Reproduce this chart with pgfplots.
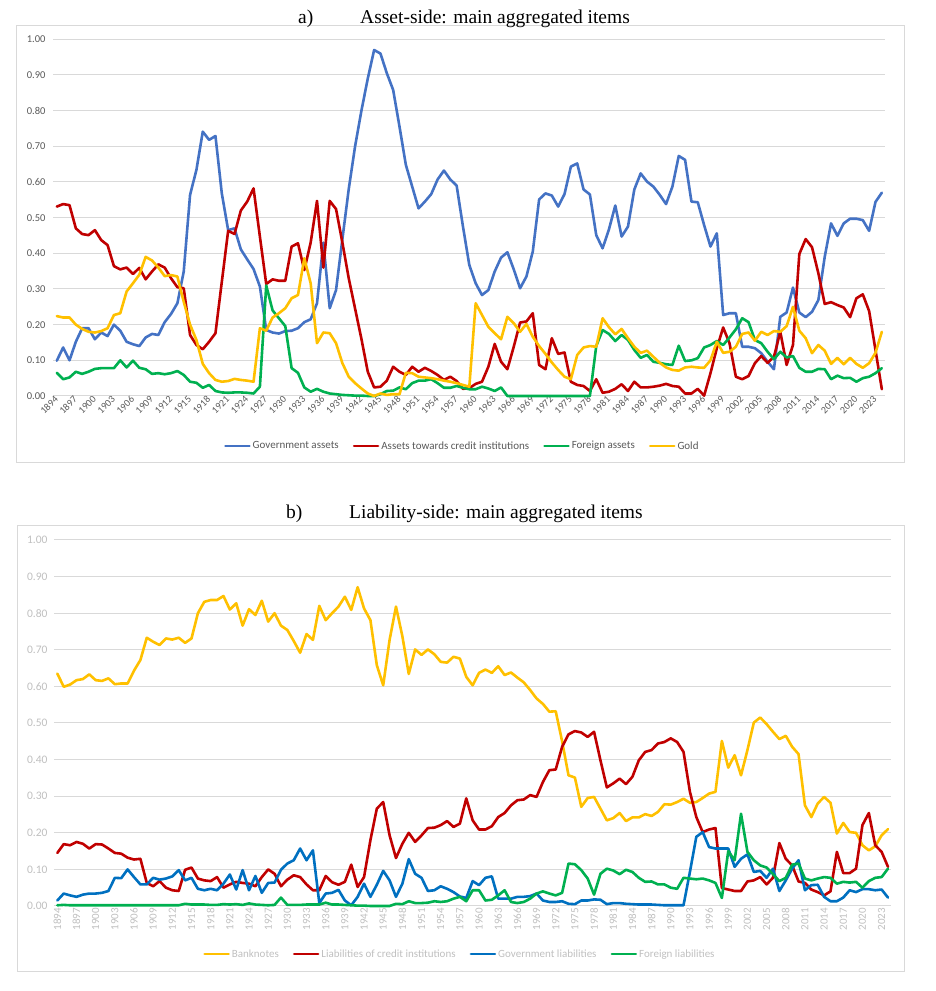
\documentclass[border=0pt]{standalone}
\usepackage{pgfplots}
\pgfplotsset{compat=1.18}
\usepackage{pgfplotstable}
\usepackage{fontspec}
\setmainfont{Carlito}
\newfontfamily\titlefont{Liberation Serif}
\definecolor{ablue}{HTML}{4472C4}
\definecolor{bblue}{HTML}{0070C0}
\definecolor{cred}{HTML}{C00000}
\definecolor{cgreen}{HTML}{00B050}
\definecolor{cgold}{HTML}{FFC000}
\definecolor{gridgray}{HTML}{D9D9D9}
\definecolor{tickgray}{HTML}{595959}
\definecolor{lightgrayt}{HTML}{BFBFBF}

\pgfplotstableread{
year gov cred foreign gold
1894 0.099 0.531 0.065 0.224
1895 0.136 0.538 0.047 0.220
1896 0.100 0.535 0.052 0.220
1897 0.152 0.470 0.068 0.200
1898 0.190 0.454 0.062 0.188
1899 0.190 0.451 0.068 0.180
1900 0.159 0.465 0.076 0.178
1901 0.178 0.437 0.078 0.182
1902 0.168 0.423 0.078 0.190
1903 0.200 0.364 0.078 0.227
1904 0.183 0.355 0.100 0.232
1905 0.152 0.360 0.080 0.293
1906 0.145 0.342 0.099 0.316
1907 0.140 0.359 0.079 0.340
1908 0.164 0.327 0.075 0.390
1909 0.174 0.349 0.062 0.380
1910 0.171 0.369 0.064 0.360
1911 0.207 0.360 0.061 0.336
1912 0.230 0.330 0.064 0.339
1913 0.260 0.305 0.070 0.335
1914 0.349 0.302 0.059 0.264
1915 0.564 0.171 0.040 0.200
1916 0.634 0.143 0.037 0.157
1917 0.741 0.131 0.023 0.090
1918 0.718 0.152 0.031 0.064
1919 0.729 0.176 0.014 0.045
1920 0.568 0.320 0.010 0.040
1921 0.465 0.463 0.009 0.042
1922 0.470 0.454 0.010 0.048
1923 0.411 0.520 0.010 0.045
1924 0.383 0.545 0.009 0.043
1925 0.356 0.582 0.007 0.040
1926 0.307 0.447 0.026 0.190
1927 0.185 0.314 0.310 0.183
1928 0.178 0.327 0.240 0.220
1929 0.175 0.323 0.218 0.232
1930 0.182 0.323 0.196 0.246
1931 0.183 0.419 0.078 0.274
1932 0.190 0.428 0.065 0.283
1933 0.207 0.353 0.024 0.386
1934 0.215 0.430 0.012 0.316
1935 0.260 0.547 0.020 0.148
1936 0.430 0.360 0.012 0.178
1937 0.246 0.547 0.007 0.176
1938 0.297 0.524 0.005 0.148
1939 0.440 0.430 0.003 0.092
1940 0.580 0.330 0.002 0.054
1941 0.700 0.245 0.001 0.036
1942 0.800 0.160 0.001 0.021
1943 0.890 0.068 0.000 0.007
1944 0.970 0.024 0.000 0.000
1945 0.960 0.026 0.005 0.007
1946 0.905 0.043 0.014 0.003
1947 0.858 0.082 0.015 0.005
1948 0.755 0.068 0.024 0.005
1949 0.648 0.059 0.019 0.065
1950 0.587 0.082 0.036 0.064
1951 0.526 0.068 0.043 0.054
1952 0.545 0.079 0.043 0.052
1953 0.566 0.070 0.047 0.050
1954 0.607 0.059 0.036 0.047
1955 0.632 0.045 0.023 0.043
1956 0.607 0.054 0.023 0.040
1957 0.590 0.042 0.028 0.036
1958 0.475 0.020 0.023 0.031
1959 0.367 0.022 0.019 0.026
1960 0.316 0.034 0.019 0.260
1961 0.283 0.040 0.026 0.227
1962 0.297 0.082 0.021 0.194
1963 0.349 0.146 0.014 0.176
1964 0.388 0.096 0.024 0.159
1965 0.403 0.075 0.000 0.222
1966 0.355 0.138 0.000 0.204
1967 0.302 0.206 0.000 0.180
1968 0.335 0.209 0.000 0.202
1969 0.405 0.232 0.000 0.166
1970 0.551 0.087 0.000 0.140
1971 0.568 0.075 0.000 0.118
1972 0.562 0.162 0.000 0.094
1973 0.531 0.118 0.000 0.073
1974 0.566 0.122 0.000 0.054
1975 0.643 0.040 0.000 0.047
1976 0.652 0.031 0.000 0.115
1977 0.579 0.028 0.000 0.136
1978 0.565 0.014 0.000 0.140
1979 0.451 0.047 0.140 0.138
1980 0.414 0.009 0.185 0.218
1981 0.467 0.012 0.174 0.193
1982 0.534 0.020 0.154 0.173
1983 0.447 0.033 0.171 0.188
1984 0.475 0.014 0.157 0.162
1985 0.579 0.040 0.129 0.138
1986 0.624 0.024 0.107 0.121
1987 0.601 0.024 0.115 0.127
1988 0.587 0.026 0.096 0.110
1989 0.564 0.029 0.093 0.093
1990 0.538 0.034 0.089 0.080
1991 0.587 0.028 0.087 0.073
1992 0.673 0.026 0.141 0.071
1993 0.662 0.007 0.098 0.080
1994 0.545 0.007 0.100 0.082
1995 0.543 0.020 0.106 0.080
1996 0.479 0.001 0.136 0.079
1997 0.419 0.064 0.143 0.100
1998 0.456 0.134 0.154 0.152
1999 0.227 0.192 0.143 0.121
2000 0.232 0.148 0.164 0.124
2001 0.232 0.054 0.187 0.138
2002 0.138 0.047 0.218 0.174
2003 0.138 0.056 0.207 0.178
2004 0.134 0.092 0.157 0.155
2005 0.120 0.112 0.148 0.180
2006 0.096 0.093 0.124 0.171
2007 0.075 0.110 0.103 0.182
2008 0.222 0.180 0.124 0.180
2009 0.234 0.087 0.108 0.196
2010 0.304 0.143 0.112 0.250
2011 0.234 0.398 0.079 0.183
2012 0.221 0.440 0.068 0.162
2013 0.236 0.417 0.068 0.120
2014 0.269 0.344 0.076 0.143
2015 0.390 0.258 0.075 0.127
2016 0.484 0.263 0.047 0.090
2017 0.449 0.255 0.057 0.107
2018 0.484 0.248 0.050 0.089
2019 0.497 0.221 0.051 0.107
2020 0.497 0.274 0.040 0.090
2021 0.493 0.285 0.050 0.079
2022 0.463 0.238 0.054 0.092
2023 0.544 0.129 0.064 0.121
2024 0.570 0.019 0.078 0.180
}\assets

\pgfplotstableread{
year bank cred gov foreign
1894 0.635 0.145 0.015 0.002
1895 0.599 0.169 0.034 0.003
1896 0.605 0.166 0.029 0.002
1897 0.617 0.175 0.025 0.002
1898 0.620 0.170 0.031 0.002
1899 0.633 0.157 0.034 0.002
1900 0.617 0.169 0.034 0.002
1901 0.615 0.168 0.036 0.002
1902 0.622 0.157 0.041 0.002
1903 0.606 0.145 0.077 0.002
1904 0.608 0.143 0.076 0.002
1905 0.608 0.132 0.100 0.002
1906 0.643 0.127 0.079 0.002
1907 0.672 0.129 0.059 0.002
1908 0.733 0.063 0.059 0.002
1909 0.722 0.054 0.077 0.002
1910 0.713 0.068 0.072 0.002
1911 0.731 0.050 0.075 0.002
1912 0.728 0.043 0.081 0.002
1913 0.733 0.041 0.098 0.002
1914 0.719 0.099 0.070 0.006
1915 0.731 0.105 0.077 0.004
1916 0.800 0.075 0.047 0.004
1917 0.831 0.070 0.043 0.004
1918 0.836 0.068 0.047 0.003
1919 0.836 0.079 0.043 0.003
1920 0.847 0.050 0.061 0.005
1921 0.810 0.059 0.086 0.004
1922 0.827 0.066 0.045 0.005
1923 0.766 0.063 0.098 0.003
1924 0.811 0.061 0.043 0.007
1925 0.795 0.054 0.082 0.004
1926 0.834 0.079 0.036 0.003
1927 0.777 0.100 0.063 0.002
1928 0.800 0.088 0.064 0.003
1929 0.766 0.054 0.099 0.023
1930 0.754 0.072 0.116 0.003
1931 0.724 0.084 0.125 0.003
1932 0.692 0.079 0.157 0.003
1933 0.743 0.059 0.125 0.004
1934 0.727 0.043 0.152 0.004
1935 0.820 0.043 0.008 0.004
1936 0.781 0.082 0.034 0.009
1937 0.800 0.065 0.036 0.004
1938 0.818 0.058 0.044 0.004
1939 0.845 0.066 0.015 0.003
1940 0.809 0.113 0.002 0.002
1941 0.871 0.052 0.025 0.001
1942 0.813 0.079 0.061 0.001
1943 0.781 0.180 0.025 0.000
1944 0.658 0.266 0.058 0.000
1945 0.603 0.284 0.096 0.000
1946 0.727 0.193 0.070 0.000
1947 0.818 0.131 0.025 0.006
1948 0.737 0.170 0.061 0.005
1949 0.634 0.200 0.128 0.013
1950 0.701 0.175 0.088 0.008
1951 0.686 0.193 0.077 0.008
1952 0.701 0.213 0.041 0.009
1953 0.688 0.214 0.043 0.013
1954 0.667 0.221 0.054 0.011
1955 0.665 0.232 0.047 0.013
1956 0.681 0.216 0.038 0.020
1957 0.676 0.225 0.026 0.025
1958 0.626 0.294 0.022 0.013
1959 0.603 0.234 0.068 0.043
1960 0.637 0.209 0.057 0.043
1961 0.646 0.209 0.077 0.015
1962 0.637 0.218 0.081 0.017
1963 0.655 0.243 0.020 0.029
1964 0.631 0.254 0.020 0.043
1965 0.638 0.275 0.020 0.011
1966 0.624 0.289 0.025 0.008
1967 0.611 0.291 0.025 0.011
1968 0.590 0.303 0.027 0.020
1969 0.567 0.298 0.034 0.034
1970 0.552 0.339 0.015 0.040
1971 0.531 0.371 0.011 0.034
1972 0.532 0.373 0.011 0.029
1973 0.450 0.435 0.013 0.036
1974 0.357 0.469 0.006 0.116
1975 0.351 0.478 0.005 0.114
1976 0.271 0.474 0.015 0.098
1977 0.295 0.462 0.015 0.075
1978 0.298 0.476 0.018 0.031
1979 0.266 0.398 0.017 0.088
1980 0.234 0.324 0.005 0.102
1981 0.240 0.335 0.008 0.097
1982 0.254 0.348 0.008 0.087
1983 0.232 0.333 0.006 0.099
1984 0.242 0.353 0.005 0.093
1985 0.242 0.398 0.004 0.077
1986 0.251 0.421 0.004 0.066
1987 0.246 0.426 0.004 0.067
1988 0.257 0.444 0.003 0.059
1989 0.278 0.448 0.002 0.059
1990 0.277 0.458 0.002 0.050
1991 0.284 0.448 0.002 0.047
1992 0.293 0.421 0.002 0.077
1993 0.282 0.312 0.093 0.075
1994 0.284 0.243 0.189 0.073
1995 0.295 0.202 0.202 0.075
1996 0.307 0.209 0.161 0.070
1997 0.312 0.213 0.157 0.063
1998 0.451 0.049 0.157 0.022
1999 0.378 0.045 0.157 0.150
2000 0.412 0.041 0.107 0.125
2001 0.357 0.041 0.129 0.252
2002 0.426 0.067 0.141 0.148
2003 0.501 0.070 0.093 0.125
2004 0.515 0.079 0.096 0.111
2005 0.497 0.059 0.077 0.105
2006 0.476 0.077 0.102 0.087
2007 0.456 0.172 0.041 0.068
2008 0.465 0.129 0.070 0.077
2009 0.435 0.111 0.102 0.113
2010 0.415 0.067 0.125 0.116
2011 0.275 0.063 0.043 0.075
2012 0.243 0.045 0.057 0.070
2013 0.280 0.038 0.058 0.075
2014 0.298 0.029 0.025 0.079
2015 0.282 0.040 0.013 0.077
2016 0.198 0.148 0.013 0.061
2017 0.227 0.090 0.023 0.066
2018 0.202 0.090 0.043 0.064
2019 0.200 0.102 0.038 0.066
2020 0.166 0.221 0.046 0.050
2021 0.152 0.254 0.046 0.068
2022 0.163 0.166 0.043 0.077
2023 0.193 0.148 0.045 0.079
2024 0.210 0.107 0.023 0.102
}\liabs

\pgfplotsset{
  chartbase/.style={
    scale only axis, anchor=south west, clip=false,
    ymin=0, ymax=1,
    ytick={0,0.1,0.2,0.3,0.4,0.5,0.6,0.7,0.8,0.9,1},
    xtick={1894,1897,...,2023},
    axis line style={draw=none},
    tick style={draw=none},
    ymajorgrids, xmajorgrids=false,
    grid style={draw=gridgray, line width=1pt},
    yticklabel style={/pgf/number format/fixed, /pgf/number format/fixed zerofill, /pgf/number format/precision=2, /pgf/number format/assume math mode=true},
    xticklabel style={/pgf/number format/1000 sep={}, /pgf/number format/assume math mode=true},
    every axis plot/.append style={line width=2.6pt, line join=round, line cap=round},
    legend columns=4,
    legend image code/.code={\draw[#1, line width=2.6pt] (0pt,0pt) -- (24pt,0pt);},
    legend cell align=left,
  }
}

\begin{document}
\begin{tikzpicture}
\useasboundingbox (0pt,0pt) rectangle (935pt,991pt);
\draw[gridgray, line width=1pt] (16pt,528pt) rectangle (904pt,965pt);
\draw[gridgray, line width=1pt] (17pt,19pt) rectangle (904pt,465pt);

\node[anchor=base west, inner sep=0pt, font=\titlefont\fontsize{19.5}{22}\selectfont] at (298pt,967pt) {a)};
\node[anchor=base west, inner sep=0pt, font=\titlefont\fontsize{19.5}{22}\selectfont] at (360pt,967pt) {Asset-side: main aggregated items};
\node[anchor=base west, inner sep=0pt, font=\titlefont\fontsize{19.5}{22}\selectfont] at (286pt,472pt) {b)};
\node[anchor=base west, inner sep=0pt, font=\titlefont\fontsize{19.5}{22}\selectfont] at (349pt,472pt) {Liability-side: main aggregated items};

\begin{axis}[chartbase,
  at={(53pt,595pt)}, width=832pt, height=356.7pt,
  xmin=1893.4, xmax=2024.5,
  yticklabel style={font=\fontsize{10.5}{12}\selectfont, text=tickgray, xshift=-4pt},
  xticklabel style={font=\fontsize{10}{11}\selectfont, text=tickgray, rotate=45, anchor=east, inner sep=1.5pt, yshift=-1pt},
  legend style={draw=none, fill=none, at={(0.492,-0.140)}, anchor=center,
    font=\fontsize{11}{13}\selectfont, text=tickgray,
    /tikz/every even column/.append style={column sep=12pt}},
]
\addplot[ablue] table[x=year, y=gov] {\assets};
\addlegendentry{Government assets}
\addplot[cred] table[x=year, y=cred] {\assets};
\addlegendentry{Assets towards credit institutions}
\addplot[cgreen] table[x=year, y=foreign] {\assets};
\addlegendentry{Foreign assets}
\addplot[cgold] table[x=year, y=gold] {\assets};
\addlegendentry{Gold}
\end{axis}

\begin{axis}[chartbase,
  at={(54pt,85pt)}, width=837pt, height=366pt,
  xmin=1893.48, xmax=2024.47,
  yticklabel style={font=\fontsize{11.5}{13}\selectfont, text=lightgrayt, xshift=-3pt},
  xticklabel style={font=\fontsize{11}{13}\selectfont, text=lightgrayt, rotate=90, anchor=east, inner sep=2pt},
  legend style={draw=none, fill=none, at={(0.485,-0.131)}, anchor=center,
    font=\fontsize{11}{13}\selectfont, text=lightgrayt,
    /tikz/every even column/.append style={column sep=12pt}},
]
\addplot[cgold] table[x=year, y=bank] {\liabs};
\addlegendentry{Banknotes}
\addplot[cred] table[x=year, y=cred] {\liabs};
\addlegendentry{Liabilities of credit institutions}
\addplot[bblue] table[x=year, y=gov] {\liabs};
\addlegendentry{Government liabilities}
\addplot[cgreen] table[x=year, y=foreign] {\liabs};
\addlegendentry{Foreign liabilities}
\end{axis}
\end{tikzpicture}
\end{document}
